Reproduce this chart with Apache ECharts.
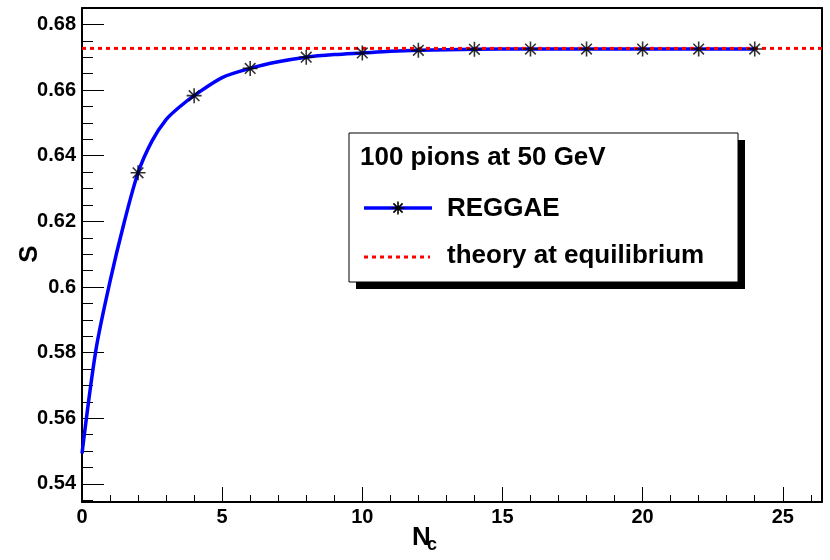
<!DOCTYPE html>
<html>
<head>
<meta charset="utf-8">
<script src="https://cdn.jsdelivr.net/npm/echarts@6/dist/echarts.min.js"></script>
<style>
html,body{margin:0;padding:0;background:#fff;}
#chart{width:830px;height:560px;}
</style>
</head>
<body>
<div id="chart"></div>
<script>
// ---- data ----
const curveX = [0, 0.5, 1, 1.5, 2, 2.5, 3, 3.5, 4, 5, 6, 7, 8, 9, 10, 11, 12, 14, 16, 18, 20, 22, 24];
const curveS = [0.5493, 0.5810, 0.6017, 0.6195, 0.6348, 0.6445, 0.6510, 0.6550, 0.6583, 0.6638, 0.6666, 0.6686, 0.6700, 0.6708, 0.6713, 0.6718, 0.6721, 0.6724, 0.6725, 0.6725, 0.6725, 0.6725, 0.6725];
const markerX = [2, 4, 6, 8, 10, 12, 14, 16, 18, 20, 22, 24];
const markerS = [0.6348, 0.6583, 0.6666, 0.6700, 0.6713, 0.6721, 0.6724, 0.6725, 0.6725, 0.6725, 0.6725, 0.6725];
const equilibriumS = 0.6727;
const xRange = [0, 26.4];
const yRange = [0.5345, 0.685];
const legendTitle = '100 pions at 50 GeV';
const seriesNames = ['REGGAE', 'theory at equilibrium'];

const FONT = '"Liberation Sans", Arial, Helvetica, sans-serif';
const starPath = 'path://M0,-10L0,10M-10,0L10,0M-7.07,-7.07L7.07,7.07M-7.07,7.07L7.07,-7.07';

function starLines(cx, cy, r) {
  const d = r * 0.7071;
  const segs = [[0, -r, 0, r], [-r, 0, r, 0], [-d, -d, d, d], [-d, d, d, -d]];
  return segs.map(s => ({
    type: 'line', z: 103,
    shape: {x1: cx + s[0], y1: cy + s[1], x2: cx + s[2], y2: cy + s[3]},
    style: {stroke: '#000', lineWidth: 1.6}
  }));
}

const chart = echarts.init(document.getElementById('chart'), null, {renderer: 'canvas'});
const option = {
  backgroundColor: '#fff',
  animation: false,
  grid: {left: 82, right: 8, top: 8, bottom: 58, containLabel: false},
  xAxis: [{
    type: 'value', min: xRange[0], max: xRange[1], splitNumber: 5,
    axisLine: {show: true, onZero: false, lineStyle: {color: '#000', width: 2}},
    axisTick: {show: true, inside: true, length: 15, lineStyle: {color: '#000', width: 1}},
    minorTick: {show: true, splitNumber: 5, length: 7, lineStyle: {color: '#000', width: 1}},
    splitLine: {show: false},
    axisLabel: {
      show: true, margin: 5, color: '#000', fontFamily: FONT, fontWeight: 'bold', fontSize: 20,
      showMaxLabel: false,
      formatter: v => (Math.abs(v - Math.round(v)) < 1e-6 && Math.round(v) % 5 === 0) ? String(Math.round(v)) : ''
    }
  }, {
    type: 'value', position: 'top', min: xRange[0], max: xRange[1],
    axisLine: {show: true, onZero: false, lineStyle: {color: '#000', width: 2}},
    axisTick: {show: false}, axisLabel: {show: false}, splitLine: {show: false}
  }],
  yAxis: [{
    type: 'value', min: yRange[0], max: yRange[1], splitNumber: 7,
    axisLine: {show: true, onZero: false, lineStyle: {color: '#000', width: 2}},
    axisTick: {show: true, inside: true, length: 22, lineStyle: {color: '#000', width: 1}},
    minorTick: {show: true, splitNumber: 4, length: 11, lineStyle: {color: '#000', width: 1}},
    splitLine: {show: false},
    axisLabel: {
      show: true, margin: 6, color: '#000', fontFamily: FONT, fontWeight: 'bold', fontSize: 20,
      showMinLabel: false, showMaxLabel: false,
      formatter: v => {
        const r = Math.round(v * 100) / 100;
        if (Math.abs(v - r) > 1e-6) return '';
        return String(r);
      }
    }
  }, {
    type: 'value', position: 'right', min: yRange[0], max: yRange[1],
    axisLine: {show: true, onZero: false, lineStyle: {color: '#000', width: 2}},
    axisTick: {show: false}, axisLabel: {show: false}, splitLine: {show: false}
  }],
  series: [{
    name: seriesNames[0], type: 'line', xAxisIndex: 0, yAxisIndex: 0,
    data: curveX.map((x, i) => [x, curveS[i]]),
    smooth: 0.3, showSymbol: false, symbol: 'none',
    lineStyle: {color: '#0000ff', width: 3.5}, z: 2
  }, {
    name: seriesNames[1], type: 'line', xAxisIndex: 0, yAxisIndex: 0,
    data: [[xRange[0], equilibriumS], [xRange[1], equilibriumS]],
    showSymbol: false, symbol: 'none',
    lineStyle: {color: '#ff0000', width: 3, type: [4, 4]}, z: 3
  }, {
    name: seriesNames[0] + ' points', type: 'scatter', xAxisIndex: 0, yAxisIndex: 0,
    data: markerX.map((x, i) => [x, markerS[i]]),
    symbol: starPath, symbolSize: 15,
    itemStyle: {color: 'rgba(0,0,0,0)', borderColor: '#000', borderWidth: 1.6}, z: 4
  }],
  graphic: [
    {type: 'rect', z: 100, shape: {x: 356, y: 140, width: 389, height: 149}, style: {fill: '#000'}},
    {type: 'rect', z: 101, shape: {x: 349, y: 133, width: 389, height: 149}, style: {fill: '#fff', stroke: '#000', lineWidth: 1}},
    {type: 'text', z: 102, x: 360, y: 157.5, style: {text: legendTitle, font: 'bold 26px ' + FONT, fill: '#000', textAlign: 'left', textVerticalAlign: 'middle'}},
    {type: 'line', z: 102, shape: {x1: 364, y1: 208, x2: 432, y2: 208}, style: {stroke: '#0000ff', lineWidth: 3.5}},
    ...starLines(398, 208, 6.5),
    {type: 'text', z: 102, x: 447, y: 209, style: {text: seriesNames[0], font: 'bold 26px ' + FONT, fill: '#000', textAlign: 'left', textVerticalAlign: 'middle'}},
    {type: 'line', z: 102, shape: {x1: 364, y1: 257, x2: 430, y2: 257}, style: {stroke: '#ff0000', lineWidth: 3, lineDash: [4, 4]}},
    {type: 'text', z: 102, x: 447, y: 256, style: {text: seriesNames[1], font: 'bold 26px ' + FONT, fill: '#000', textAlign: 'left', textVerticalAlign: 'middle'}},
    {type: 'text', z: 102, x: 30, y: 254, rotation: Math.PI / 2, style: {text: 'S', font: 'bold 26px ' + FONT, fill: '#000', textAlign: 'center', textVerticalAlign: 'middle'}},
    {type: 'text', z: 102, x: 412, y: 537.5, style: {text: 'N', font: 'bold 26px ' + FONT, fill: '#000', textAlign: 'left', textVerticalAlign: 'middle'}},
    {type: 'text', z: 102, x: 427, y: 545.5, style: {text: 'c', font: 'bold 18px ' + FONT, fill: '#000', textAlign: 'left', textVerticalAlign: 'middle'}}
  ]
};
chart.setOption(option);
</script>
</body>
</html>
